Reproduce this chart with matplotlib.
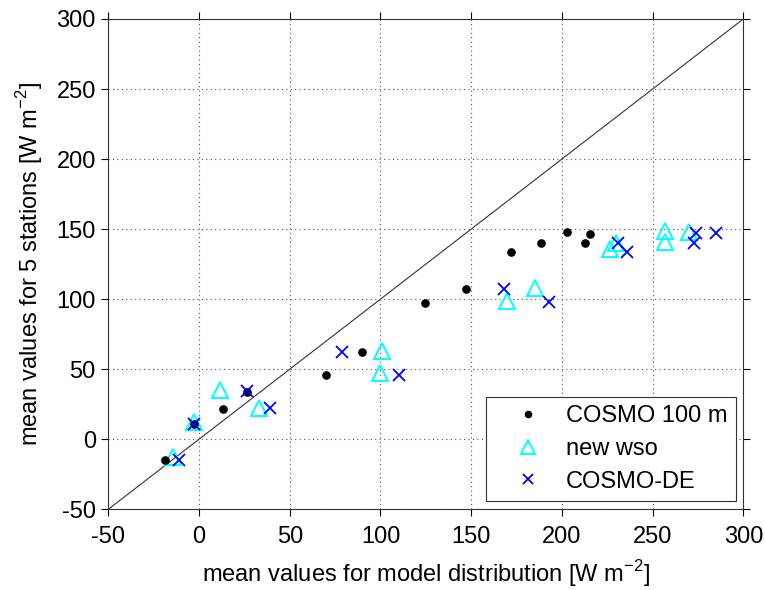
import matplotlib
matplotlib.use("Agg")
import matplotlib.pyplot as plt

plt.rcParams['font.family'] = ['Liberation Sans', 'DejaVu Sans']
plt.rcParams['mathtext.fontset'] = 'custom'
plt.rcParams['mathtext.rm'] = 'Liberation Sans'

cosmo100_x = [-19, -3, 13.4, 26.5, 70, 90, 124.4, 147, 172, 188.5, 203, 212.6, 215.7]
cosmo100_y = [-14.5, 11, 21.6, 34, 46, 62, 97.5, 107, 134, 140, 148, 140, 146.5]

newwso_x = [-14.5, -2.5, 11.6, 33.2, 101, 100, 169.6, 185, 226.5, 230, 257, 257, 270]
newwso_y = [-13, 12, 35, 22.6, 63, 47, 99, 108, 136, 140, 149, 140.6, 147.7]

cosmode_x = [-11, -3, 26.5, 39, 79, 110, 168, 193, 231, 236, 274, 273, 285]
cosmode_y = [-14.5, 11, 34.5, 22, 62, 46, 107, 98, 140, 134, 147.5, 140, 147]

ticks = [-50, 0, 50, 100, 150, 200, 250, 300]
diag = [-50, 300]

fig = plt.figure(figsize=(7.65, 5.9), dpi=100)
ax = fig.add_axes([0.1416, 0.1368, 0.83, 0.831])

ax.plot(diag, diag, color='#333333', lw=0.8, zorder=1)
ax.plot(cosmo100_x, cosmo100_y, 'o', color='black', ms=5.2, ls='none', label='COSMO 100 m', zorder=3)
ax.plot(newwso_x, newwso_y, '^', mfc='none', mec='cyan', mew=1.4, ms=12, ls='none', label='new wso', zorder=2)
ax.plot(cosmode_x, cosmode_y, 'x', color='blue', mew=1.3, ms=8, ls='none', label='COSMO-DE', zorder=4)

ax.set_xlim(-50, 300)
ax.set_ylim(-50, 300)
ax.set_xticks(ticks)
ax.set_yticks(ticks)
ax.set_xticklabels([str(t) for t in ticks])
ax.set_yticklabels([str(t) for t in ticks])
ax.tick_params(direction='out', length=5, width=0.8, labelsize=17, top=True, right=True)
ax.tick_params(axis='x', pad=7)
ax.tick_params(axis='y', pad=4)
ax.grid(True, linestyle=(0, (1, 3)), color='#555555', lw=0.8)
for s in ax.spines.values():
    s.set_linewidth(0.8)
    s.set_color('#333333')

ax.set_xlabel('mean values for model distribution [W m$^{-2}$]', fontsize=17, labelpad=7)
ax.set_ylabel('mean values for 5 stations [W m$^{-2}$]', fontsize=17, labelpad=8)

leg = ax.legend(loc='lower right', fontsize=17, frameon=True, fancybox=False,
                edgecolor='#333333', framealpha=1, borderpad=0.35, labelspacing=0.45,
                handlelength=2.85, handletextpad=0.2, markerscale=0.85,
                borderaxespad=0, bbox_to_anchor=(0.988, 0.017))
leg.get_frame().set_linewidth(0.8)

fig.savefig('out.png', dpi=100)
